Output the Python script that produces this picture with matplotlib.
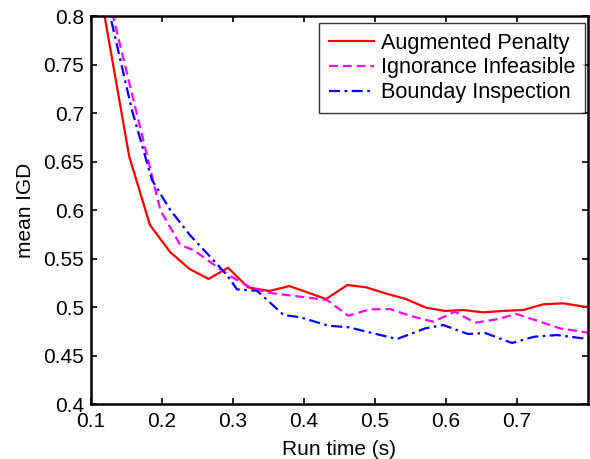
import matplotlib
matplotlib.use("Agg")
import matplotlib.pyplot as plt

plt.rcParams['font.family'] = ['Liberation Sans', 'DejaVu Sans']

# mean IGD against run time for the three constraint handling strategies
t_penalty = [0.100, 0.1539, 0.1831, 0.2117, 0.2389, 0.2656, 0.2930, 0.3211,
             0.3511, 0.3793, 0.4050, 0.4310, 0.4610, 0.4873, 0.5150, 0.5437,
             0.5718, 0.5986, 0.6244, 0.6524, 0.6810, 0.7087, 0.7369, 0.7651,
             0.7932, 0.8000]
igd_penalty = [0.880, 0.655, 0.5845, 0.5564, 0.5392, 0.5289, 0.5405, 0.5203,
               0.5165, 0.5216, 0.5150, 0.5082, 0.5227, 0.5203, 0.5140, 0.5082,
               0.4993, 0.4959, 0.4969, 0.4945, 0.4960, 0.4969, 0.5028, 0.5038,
               0.5005, 0.5000]

t_ignore = [0.100, 0.1520, 0.1976, 0.2258, 0.2441, 0.2935, 0.3239, 0.3496,
            0.4324, 0.4623, 0.4927, 0.5209, 0.5490, 0.5820, 0.6124, 0.6406,
            0.6711, 0.6993, 0.7321, 0.7603, 0.8000]
igd_ignore = [0.893, 0.737, 0.600, 0.5639, 0.5588, 0.533, 0.5203, 0.5147,
              0.5072, 0.4910, 0.4976, 0.4979, 0.4910, 0.4848, 0.4952, 0.4838,
              0.4873, 0.4928, 0.4849, 0.4780, 0.4735]

t_boundary = [0.100, 0.1577, 0.1859, 0.2117, 0.2400, 0.2633, 0.2915, 0.3056,
              0.3338, 0.3713, 0.3948, 0.4346, 0.4627, 0.5310, 0.5708, 0.5963,
              0.6307, 0.6553, 0.6930, 0.7244, 0.7563, 0.8000]
igd_boundary = [0.886, 0.703, 0.631, 0.600, 0.5736, 0.5554, 0.533, 0.5182,
                0.5168, 0.4918, 0.4894, 0.4807, 0.4791, 0.4670, 0.4780, 0.4814,
                0.4722, 0.4732, 0.4629, 0.4694, 0.4711, 0.4670]

labels = ['Augmented Penalty', 'Ignorance Infeasible', 'Bounday Inspection']

fig = plt.figure(figsize=(5.9, 4.59), dpi=100)
ax = fig.add_axes([0.1542, 0.1198, 0.8424, 0.8453])

ax.plot(t_penalty, igd_penalty, color='#ff0000', lw=1.6, label=labels[0])
ax.plot(t_ignore, igd_ignore, color='#ff00ff', lw=1.6, dashes=(4, 2.2),
        label=labels[1])
ax.plot(t_boundary, igd_boundary, color='#0000ff', lw=1.6,
        dashes=(5, 2, 1.2, 2), label=labels[2])

ax.set_xlim(0.1, 0.8)
ax.set_ylim(0.4, 0.8)
ax.set_xticks([0.1, 0.2, 0.3, 0.4, 0.5, 0.6, 0.7])
ax.set_xticklabels(['0.1', '0.2', '0.3', '0.4', '0.5', '0.6', '0.7'])
ax.set_yticks([0.4, 0.45, 0.5, 0.55, 0.6, 0.65, 0.7, 0.75, 0.8])
ax.set_yticklabels(['0.4', '0.45', '0.5', '0.55', '0.6', '0.65', '0.7',
                    '0.75', '0.8'])

for s in ax.spines.values():
    s.set_linewidth(1.8)
ax.tick_params(direction='in', length=4, width=1.2, labelsize=15,
               top=True, right=True)
ax.tick_params(axis='x', pad=6)
ax.tick_params(axis='y', pad=5)

ax.set_xlabel('Run time (s)', fontsize=15, labelpad=6)
ax.set_ylabel('mean IGD', fontsize=15, labelpad=6)

# legend box sits just inside the upper right corner
leg = ax.legend(loc='upper right', bbox_to_anchor=(0.994, 0.982),
                borderaxespad=0, fontsize=15.6, frameon=True, fancybox=False,
                edgecolor='black', handlelength=2.1, handletextpad=0.3,
                borderpad=0.45, labelspacing=0.17)
leg.get_frame().set_linewidth(1.0)

fig.savefig('out.png', dpi=100)
